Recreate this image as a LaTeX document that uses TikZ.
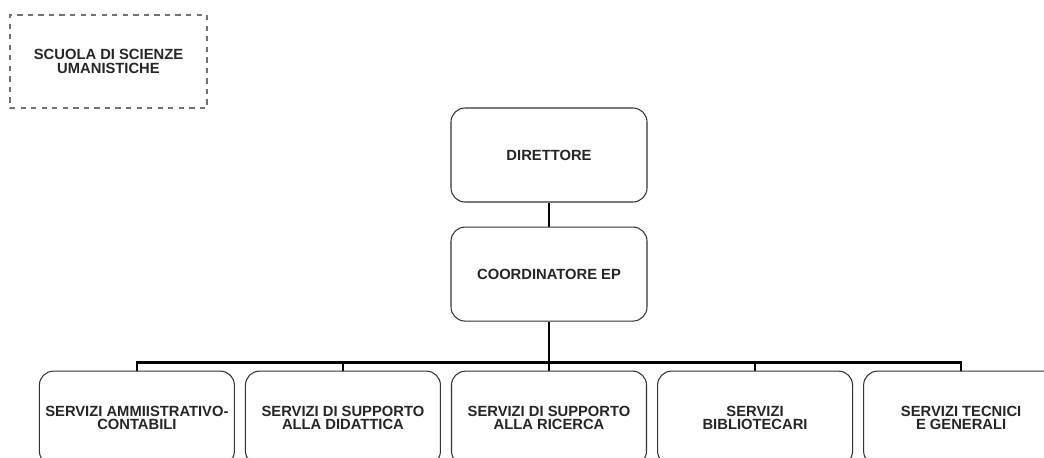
\documentclass[tikz,border=0pt]{standalone}
\usepackage{fontspec}
\setmainfont{Liberation Sans}
\usetikzlibrary{positioning}
\tikzset{
        font=\bfseries\fontsize{8.4}{7.6}\selectfont, % bold sans text everywhere
        text=black!85,
        node distance=0.48cm, % vertical gap between the two top boxes
    }
\tikzset{
      unit box/.style={
		draw=black!80,
		line width=0.6pt,
		rounded corners=8pt,
		align=center,
		minimum width={#1 cm},
		minimum height={1.88cm},
	  },
  		school box/.style={
    	draw=black!55,
    	dashed,
    	line width=0.8pt,
    	align=center,
    	minimum width={3.94cm},
    	minimum height={1.86cm},
      },
      tree line/.style={
        line width=1.5pt,
      },
  	}
\begin{document}
\begin{tikzpicture}
    \path[use as bounding box, clip] (0,0) rectangle (20.88,-9.14);
    \node [school box] (school) at (2.17,-1.23) {SCUOLA DI SCIENZE\\UMANISTICHE};
    \node [unit box=3.92] (dir) at (10.98,-3.10) {DIRETTORE};
    \node [unit box=3.92, below=of dir] (coord) {COORDINATORE EP};
    \node [unit box=3.9, below=0.98cm of coord] (s3) {SERVIZI DI SUPPORTO\\ALLA RICERCA};
    \node [unit box=3.9, left=0.2cm of s3] (s2) {SERVIZI DI SUPPORTO\\ALLA DIDATTICA};
    \node [unit box=3.9, left=0.2cm of s2] (s1) {SERVIZI AMMIISTRATIVO-\\CONTABILI};
    \node [unit box=3.9, right=0.2cm of s3] (s4) {SERVIZI\\BIBLIOTECARI};
    \node [unit box=3.9, right=0.2cm of s4] (s5) {SERVIZI TECNICI\\E GENERALI};
    \coordinate [above=0.16cm of s3.north] (bus);
    \draw [tree line] (dir) -- (coord);
    \draw [tree line] (coord) -- (bus) -- (s3);
    \foreach \n in {s1,s2,s4,s5}
      \draw [tree line] (bus) -| (\n.north);
  \end{tikzpicture}
\end{document}
